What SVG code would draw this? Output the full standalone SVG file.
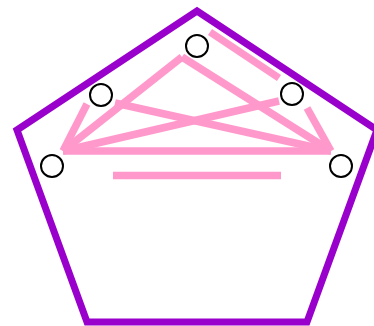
<svg xmlns="http://www.w3.org/2000/svg" width="374" height="326" viewBox="0 0 374 326">
<style>
.frame{fill:none;stroke:#9900cc;stroke-width:7}
.edge{fill:none;stroke:#ff99cc;stroke-width:7.5}
.node{fill:#ffffff;stroke:#000000;stroke-width:2}
</style>
<rect width="374" height="326" fill="#ffffff"/>
<g id="frame">
<polygon class="frame" points="197,11 377,130 307,322 87,322 17,130"/>
</g>
<g id="connectors">
<line class="edge" x1="182" y1="57" x2="63" y2="151"/>
<line class="edge" x1="182" y1="57" x2="331" y2="151"/>
<line class="edge" x1="63" y1="151" x2="331" y2="151"/>
<line class="edge" x1="87" y1="104" x2="63" y2="151"/>
<line class="edge" x1="115" y1="103" x2="331" y2="151"/>
<line class="edge" x1="279" y1="101" x2="63" y2="151"/>
<line class="edge" x1="307" y1="108" x2="331" y2="151"/>
<line class="edge" x1="210" y1="32" x2="279" y2="78"/>
<line class="edge" x1="113" y1="175.5" x2="281" y2="175.5"/>
</g>
<g id="n1"><circle class="node" cx="197" cy="46" r="11"/></g>
<g id="n2"><circle class="node" cx="101" cy="95" r="11"/></g>
<g id="n3"><circle class="node" cx="292" cy="94" r="11"/></g>
<g id="n4"><circle class="node" cx="52" cy="166" r="11"/></g>
<g id="n5"><circle class="node" cx="341" cy="166" r="11"/></g>
</svg>
